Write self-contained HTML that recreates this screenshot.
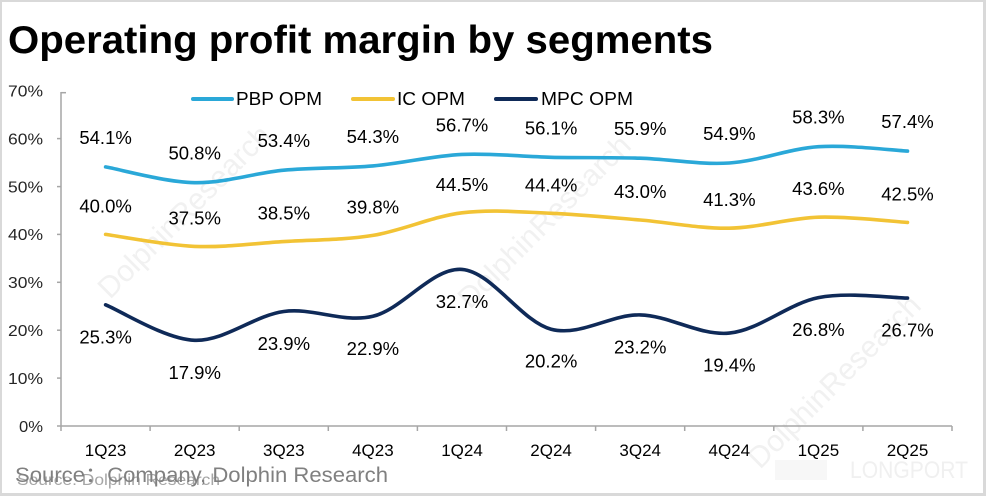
<!DOCTYPE html>
<html>
<head>
<meta charset="utf-8">
<style>
html,body{margin:0;padding:0;background:#d9d9d9;}
svg{display:block;}
text{font-family:"Liberation Sans","Noto Sans CJK SC",sans-serif;}
</style>
</head>
<body>
<svg width="986" height="496" viewBox="0 0 986 496" xmlns="http://www.w3.org/2000/svg">
<rect x="0" y="0" width="986" height="496" fill="#d9d9d9"/>
<rect x="2" y="2" width="981" height="491" fill="#ffffff"/>

<!-- faint watermarks -->
<g fill="#f1f1f1" font-size="30">
<text x="0" y="0" transform="translate(110,300) rotate(-45)">DolphinResearch</text>
<text x="0" y="0" transform="translate(470,310) rotate(-45)">DolphinResearch</text>
<text x="0" y="0" transform="translate(760,470) rotate(-45)">DolphinResearch</text>
</g>
<text x="1015" y="478" font-size="26" fill="#f0f0f0" textLength="0" display="none">LONGPORT</text>
<rect x="775" y="460" width="52" height="20" fill="#f7f7f7"/>
<text x="850" y="478" font-size="24" fill="#f0f0f0" textLength="118" lengthAdjust="spacingAndGlyphs">LONGPORT</text>

<!-- title -->
<text x="8" y="53" font-size="39" font-weight="bold" fill="#000" textLength="705" lengthAdjust="spacingAndGlyphs">Operating profit margin by segments</text>

<!-- axes -->
<g stroke="#a6a6a6" stroke-width="1.5" fill="none">
<line x1="61" y1="92" x2="61" y2="426"/>
<line x1="61" y1="92.7" x2="66" y2="92.7"/>
<line x1="57" y1="138.6" x2="61" y2="138.6"/>
<line x1="57" y1="186.6" x2="61" y2="186.6"/>
<line x1="57" y1="234.4" x2="61" y2="234.4"/>
<line x1="57" y1="282.3" x2="61" y2="282.3"/>
<line x1="57" y1="330.2" x2="61" y2="330.2"/>
<line x1="57" y1="378.1" x2="61" y2="378.1"/>
<line x1="57" y1="426" x2="952" y2="426"/>
<line x1="61" y1="426" x2="61" y2="431"/>
<line x1="150.1" y1="426" x2="150.1" y2="431"/>
<line x1="239.2" y1="426" x2="239.2" y2="431"/>
<line x1="328.3" y1="426" x2="328.3" y2="431"/>
<line x1="417.4" y1="426" x2="417.4" y2="431"/>
<line x1="506.5" y1="426" x2="506.5" y2="431"/>
<line x1="595.6" y1="426" x2="595.6" y2="431"/>
<line x1="684.7" y1="426" x2="684.7" y2="431"/>
<line x1="773.8" y1="426" x2="773.8" y2="431"/>
<line x1="862.9" y1="426" x2="862.9" y2="431"/>
<line x1="952" y1="426" x2="952" y2="431"/>
</g>

<!-- y labels -->
<g font-size="16" fill="#262626" text-anchor="end">
<text x="43" y="96.5" textLength="35" lengthAdjust="spacingAndGlyphs">70%</text>
<text x="43" y="144.4" textLength="35" lengthAdjust="spacingAndGlyphs">60%</text>
<text x="43" y="192.3" textLength="35" lengthAdjust="spacingAndGlyphs">50%</text>
<text x="43" y="240.2" textLength="35" lengthAdjust="spacingAndGlyphs">40%</text>
<text x="43" y="288.1" textLength="35" lengthAdjust="spacingAndGlyphs">30%</text>
<text x="43" y="336" textLength="35" lengthAdjust="spacingAndGlyphs">20%</text>
<text x="43" y="383.9" textLength="35" lengthAdjust="spacingAndGlyphs">10%</text>
<text x="43" y="431.8" textLength="24" lengthAdjust="spacingAndGlyphs">0%</text>
</g>

<!-- x labels -->
<g font-size="17" fill="#000" text-anchor="middle">
<text x="105.6" y="456">1Q23</text>
<text x="194.7" y="456">2Q23</text>
<text x="283.8" y="456">3Q23</text>
<text x="372.9" y="456">4Q23</text>
<text x="462.0" y="456">1Q24</text>
<text x="551.1" y="456">2Q24</text>
<text x="640.2" y="456">3Q24</text>
<text x="729.3" y="456">4Q24</text>
<text x="818.4" y="456">1Q25</text>
<text x="907.5" y="456">2Q25</text>
</g>

<!-- legend -->
<g stroke-width="4" stroke-linecap="round">
<line x1="193" y1="99" x2="232" y2="99" stroke="#2aa8d8"/>
<line x1="353" y1="99" x2="393" y2="99" stroke="#f2c335"/>
<line x1="496" y1="99" x2="536" y2="99" stroke="#0f2a58"/>
</g>
<g font-size="18" fill="#000">
<text x="236" y="105" textLength="86" lengthAdjust="spacingAndGlyphs">PBP OPM</text>
<text x="397" y="105" textLength="68" lengthAdjust="spacingAndGlyphs">IC OPM</text>
<text x="541" y="105" textLength="92" lengthAdjust="spacingAndGlyphs">MPC OPM</text>
</g>

<!-- series -->
<g fill="none" stroke-width="3.6" stroke-linecap="round" stroke-linejoin="round">
<path stroke="#2aa8d8" d="M105.6,166.9 C120.45,169.5 165.0,182.15 194.7,182.7 C224.4,183.25 254.1,173.0 283.8,170.2 C313.5,167.4 343.2,168.5 372.9,165.9 C402.6,163.27 432.3,155.83 462.0,154.4 C491.7,152.97 521.4,156.67 551.1,157.3 C580.8,157.93 610.5,157.25 640.2,158.2 C669.9,159.15 699.6,164.92 729.3,163.0 C759.0,161.08 788.7,148.68 818.4,146.7 C848.1,144.72 892.65,150.37 907.5,151.1"/>
<path stroke="#f2c335" d="M105.6,234.4 C120.45,236.4 165.0,245.2 194.7,246.4 C224.4,247.6 254.1,243.43 283.8,241.6 C313.5,239.77 343.2,240.2 372.9,235.4 C402.6,230.6 432.3,216.48 462.0,212.8 C491.7,209.12 521.4,212.1 551.1,213.3 C580.8,214.5 610.5,217.52 640.2,220.0 C669.9,222.48 699.6,228.67 729.3,228.2 C759.0,227.73 788.7,218.17 818.4,217.2 C848.1,216.23 892.65,221.53 907.5,222.4"/>
<path stroke="#0f2a58" d="M105.6,304.8 C120.45,310.72 165.0,339.18 194.7,340.3 C224.4,341.42 254.1,315.5 283.8,311.5 C313.5,307.5 343.2,323.32 372.9,316.3 C402.6,309.28 432.3,267.25 462.0,269.4 C491.7,271.55 521.4,321.62 551.1,329.2 C580.8,336.78 610.5,314.25 640.2,314.9 C669.9,315.55 699.6,335.98 729.3,333.1 C759.0,330.22 788.7,303.43 818.4,297.6 C848.1,291.77 892.65,298.02 907.5,298.1"/>
</g>

<!-- data labels -->
<g font-size="18.5" fill="#000" text-anchor="middle">
<text x="105.6" y="143.9">54.1%</text>
<text x="194.7" y="159.7">50.8%</text>
<text x="283.8" y="147.2">53.4%</text>
<text x="372.9" y="142.9">54.3%</text>
<text x="462.0" y="131.4">56.7%</text>
<text x="551.1" y="134.3">56.1%</text>
<text x="640.2" y="135.2">55.9%</text>
<text x="729.3" y="140.0">54.9%</text>
<text x="818.4" y="123.7">58.3%</text>
<text x="907.5" y="128.1">57.4%</text>

<text x="105.6" y="212.4">40.0%</text>
<text x="194.7" y="224.4">37.5%</text>
<text x="283.8" y="219.6">38.5%</text>
<text x="372.9" y="213.4">39.8%</text>
<text x="462.0" y="190.8">44.5%</text>
<text x="551.1" y="191.3">44.4%</text>
<text x="640.2" y="198.0">43.0%</text>
<text x="729.3" y="206.2">41.3%</text>
<text x="818.4" y="195.2">43.6%</text>
<text x="907.5" y="200.4">42.5%</text>

<text x="105.6" y="343.3">25.3%</text>
<text x="194.7" y="378.8">17.9%</text>
<text x="283.8" y="350.0">23.9%</text>
<text x="372.9" y="354.8">22.9%</text>
<text x="462.0" y="307.9">32.7%</text>
<text x="551.1" y="367.7">20.2%</text>
<text x="640.2" y="353.4">23.2%</text>
<text x="729.3" y="371.6">19.4%</text>
<text x="818.4" y="336.1">26.8%</text>
<text x="907.5" y="336.6">26.7%</text>
</g>

<!-- source -->
<text x="17" y="485" font-size="16" fill="#a6a6a6" textLength="203" lengthAdjust="spacingAndGlyphs">Source: Dolphin Research</text>
<text x="15" y="482" font-size="21" fill="#808080" textLength="373" lengthAdjust="spacingAndGlyphs">Source：Company, Dolphin Research</text>
</svg>
</body>
</html>
